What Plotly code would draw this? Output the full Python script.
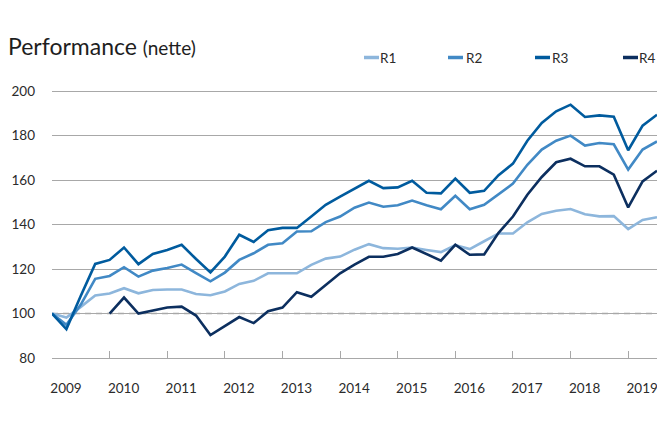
import plotly.graph_objects as go

# ---------------- data ----------------
start_year = 2009
quarter_step = 0.25
years = list(range(2009, 2020))
year_labels = [str(y) for y in years]
y_ticks = [80, 100, 120, 140, 160, 180, 200]

series_names = ["R1", "R2", "R3", "R4"]

r1 = [100, 98.2, 103, 108.1, 109, 111.4, 109.1, 110.6, 110.8, 110.8, 108.8,
      108.2, 109.9, 113.3, 114.7, 118.1, 118.1, 118.1, 121.9, 124.7, 125.6,
      128.7, 131.2, 129.4, 129.1, 129.7, 128.6, 127.6, 130.7, 129.0, 132.5,
      136.0, 136.0, 141.0, 144.8, 146.2, 147.0, 144.6, 143.7, 143.8, 138.0,
      142.1, 143.3]
r2 = [100, 94.9, 104, 115.6, 116.9, 120.8, 116.6, 119.3, 120.5, 122.0, 118.2,
      114.5, 118.4, 124.1, 127.1, 130.9, 131.6, 136.9, 137.0, 141.1, 143.6,
      147.6, 149.9, 148.0, 148.7, 150.8, 148.7, 146.9, 152.9, 146.9, 148.9,
      153.6, 158.4, 166.9, 173.7, 177.7, 180.0, 175.5, 176.7, 176.1, 164.7,
      173.7, 177.4]
r3 = [100, 93.0, 108, 122.3, 124.1, 129.7, 122.2, 126.8, 128.6, 130.9, 124.5,
      118.5, 125.6, 135.4, 132.2, 137.5, 138.5, 138.5, 143.6, 148.9, 152.6,
      156.0, 159.7, 156.4, 156.7, 159.7, 154.3, 154.0, 160.7, 154.3, 155.2,
      162.2, 167.4, 177.7, 185.7, 190.9, 193.9, 188.4, 189.1, 188.5, 173.4,
      184.5, 189.4]
r4 = [None, None, None, None, 100, 107.2, 100, 101.2, 102.7, 103.1, 99.1,
      90.3, 94.2, 98.4, 95.7, 101.0, 102.7, 109.6, 107.5, 112.7, 118.1,
      122.0, 125.5, 125.5, 126.8, 129.7, 126.7, 123.8, 130.9, 126.4, 126.6,
      136.3, 143.6, 153.4, 161.4, 168.0, 169.6, 166.2, 166.2, 162.4, 147.7,
      159.4, 164.2]
series_values = [r1, r2, r3, r4]
baseline = 100

# ---------------- style ----------------
colors = ["#8db6dc", "#4189c5", "#005b9e", "#0c2f5f"]
FONT = "Lato"
TEXT = "#2b2b2b"
GRID = "#a8a8a8"

W, H = 657, 426
ML, MR, MT, MB = 52, 0, 80, 68
PW, PH = W - ML - MR, H - MT - MB

x_vals = [start_year + quarter_step * i for i in range(len(r1))]

fig = go.Figure()
for name, vals, col in zip(series_names, series_values, colors):
    fig.add_trace(go.Scatter(
        x=x_vals, y=vals, name=name, mode="lines",
        line=dict(color=col, width=2.6), showlegend=False,
        connectgaps=False, hoverinfo="x+y+name"))

# dashed baseline
fig.add_shape(type="line", xref="paper", x0=0, x1=1, yref="y",
              y0=baseline, y1=baseline, layer="below",
              line=dict(color="#a9a9a9", width=1.6, dash="6px,5px"))

# manual legend (layout positions in px: line start, text end)
legend_line_px = [364, 448, 535, 623]
legend_text_end_px = [398, 484, 570, 657]
legend_py = 57.5
yp = (H - MB - legend_py) / PH
for name, col, px, tx in zip(series_names, colors, legend_line_px, legend_text_end_px):
    fig.add_shape(type="line", xref="paper", yref="paper",
                  x0=(px - ML) / PW, x1=(px + 15 - ML) / PW, y0=yp, y1=yp,
                  line=dict(color=col, width=3.5))
    fig.add_annotation(xref="paper", yref="paper", x=(tx - ML) / PW, y=yp,
                       xanchor="right", yanchor="middle", showarrow=False,
                       text=name, font=dict(family=FONT, size=13.5, color=TEXT))

fig.update_layout(
    width=W, height=H,
    margin=dict(l=ML, r=MR, t=MT, b=MB),
    paper_bgcolor="white", plot_bgcolor="white",
    font=dict(family=FONT, size=13, color=TEXT),
    title=dict(text="Performance <span style='font-size:19px'>(nette)</span>",
               x=8 / W, xanchor="left", xref="container",
               y=1 - 47 / H, yanchor="middle",
               font=dict(family=FONT, size=23, color="#1e1e1e")),
    xaxis=dict(range=[2009, 2019.5], tickvals=years, ticktext=year_labels,
               showgrid=False, zeroline=False, showline=True, linecolor=GRID,
               linewidth=1.2, ticks="inside", ticklen=7, tickcolor=GRID,
               tickwidth=1.2, ticklabelshift=14, ticklabelstandoff=18,
               ticklabeloverflow="allow",
               tickfont=dict(family=FONT, size=13.5, color=TEXT)),
    yaxis=dict(range=[80, 205], tickvals=y_ticks, showgrid=True,
               gridcolor=GRID, gridwidth=1.2, zeroline=False, ticks="",
               ticklabelstandoff=16,
               tickfont=dict(family=FONT, size=13.5, color=TEXT)),
)

fig.write_html("out.html")
